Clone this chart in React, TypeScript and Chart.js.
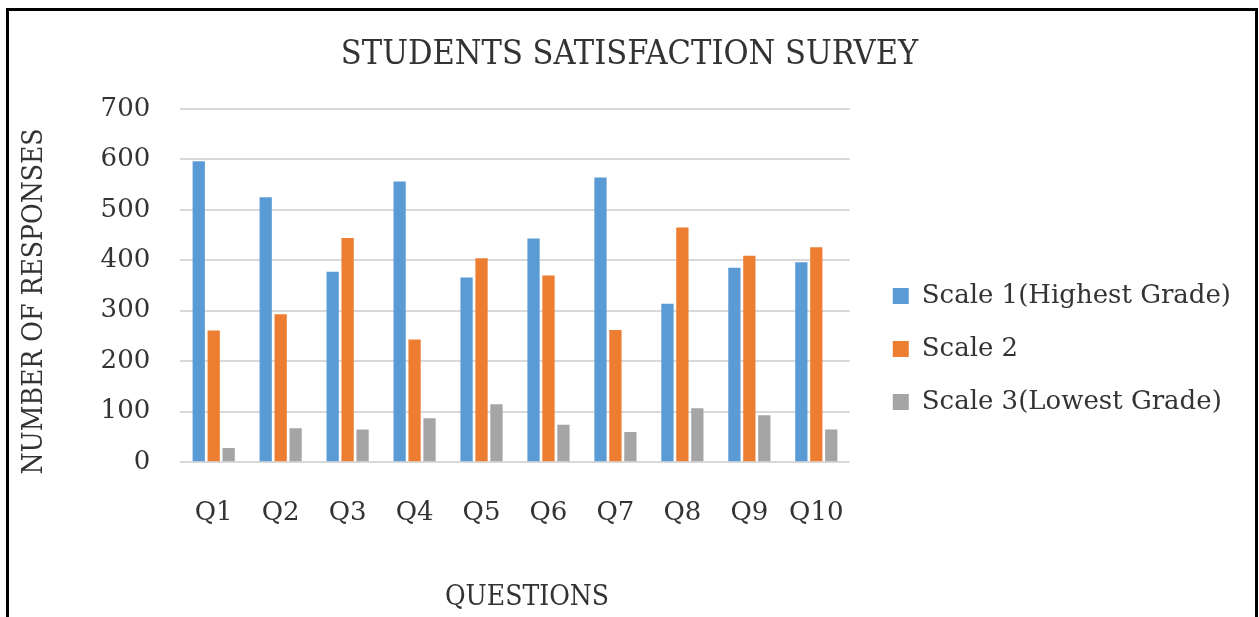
import React, { useEffect, useRef } from "react";
import { Chart, registerables } from "chart.js";

Chart.register(...registerables);

const categories = ["Q1", "Q2", "Q3", "Q4", "Q5", "Q6", "Q7", "Q8", "Q9", "Q10"];
const scale1 = [596, 525, 377, 556, 366, 443, 564, 314, 385, 396];
const scale2 = [261, 293, 444, 243, 404, 370, 262, 465, 409, 426];
const scale3 = [28, 67, 65, 87, 115, 74, 60, 107, 93, 65];
const seriesNames = ["Scale 1(Highest Grade)", "Scale 2", "Scale 3(Lowest Grade)"];
const seriesColors = ["#5B9BD5", "#ED7D31", "#A5A5A5"];
const titleText = "STUDENTS SATISFACTION SURVEY";
const xTitle = "\u00A0\u00A0\u00A0QUESTIONS";
const yTitle = "NUMBER OF RESPONSES\u00A0\u00A0\u00A0\u00A0";

const TEXT = "#333333";
const BODY_FONT = "'DejaVu Serif', 'Liberation Serif', serif";
const COND_FONT = "'DejaVu Serif Condensed', 'DejaVu Serif', serif";

export default function App() {
  const ref = useRef<HTMLCanvasElement | null>(null);

  useEffect(() => {
    if (!ref.current) return;
    const chart = new Chart(ref.current, {
      type: "bar",
      data: {
        labels: categories,
        datasets: [scale1, scale2, scale3].map((d, i) => ({
          label: seriesNames[i],
          data: d,
          backgroundColor: seriesColors[i],
          borderWidth: 0,
          categoryPercentage: 0.67,
          barPercentage: 0.82,
        })),
      },
      options: {
        responsive: true,
        maintainAspectRatio: false,
        animation: false,
        layout: { padding: { left: 9, right: 14, top: 0, bottom: 0 } },
        plugins: {
          tooltip: { enabled: false },
          title: {
            display: true,
            text: titleText,
            color: TEXT,
            font: { family: COND_FONT, size: 34, weight: "normal" },
            padding: { top: 24, bottom: 33 },
          },
          legend: {
            position: "right",
            maxWidth: 520,
            title: {
              display: true,
              text: " ",
              font: { size: 12 },
              padding: { top: 55.6, bottom: 0 },
            },
            labels: {
              color: TEXT,
              font: { family: BODY_FONT, size: 26 },
              boxWidth: 16,
              boxHeight: 16,
              padding: 27,
            },
          },
        },
        scales: {
          x: {
            grid: { display: false, drawTicks: false },
            border: { display: false },
            ticks: {
              color: TEXT,
              font: { family: BODY_FONT, size: 26 },
              padding: 35,
            },
            title: {
              display: true,
              text: xTitle,
              color: TEXT,
              font: { family: COND_FONT, size: 28 },
              padding: { top: 18, bottom: 2 },
            },
          },
          y: {
            min: 0,
            max: 700,
            ticks: {
              stepSize: 100,
              color: TEXT,
              font: { family: BODY_FONT, size: 26 },
              padding: 30,
            },
            grid: { color: "#D9D9D9", lineWidth: 2, drawTicks: false },
            border: { display: false },
            title: {
              display: true,
              text: yTitle,
              color: TEXT,
              font: { family: COND_FONT, size: 28 },
              padding: { top: 0, bottom: 19 },
            },
          },
          gap: {
            type: "linear",
            axis: "y",
            position: "right",
            display: true,
            ticks: { display: false },
            grid: { display: false, drawTicks: false },
            border: { display: false },
            afterFit: (scale: any) => {
              scale.width = 16;
            },
          },
        },
      },
    });
    return () => chart.destroy();
  }, []);

  return (
    <div
      style={{
        position: "fixed",
        left: 6,
        top: 8,
        width: 1246,
        height: 609,
        borderLeft: "3px solid #000",
        borderTop: "3px solid #000",
        borderRight: "3px solid #000",
        background: "#fff",
      }}
    >
      <div style={{ position: "relative", width: 1246, height: 606 }}>
        <canvas ref={ref} />
      </div>
    </div>
  );
}
